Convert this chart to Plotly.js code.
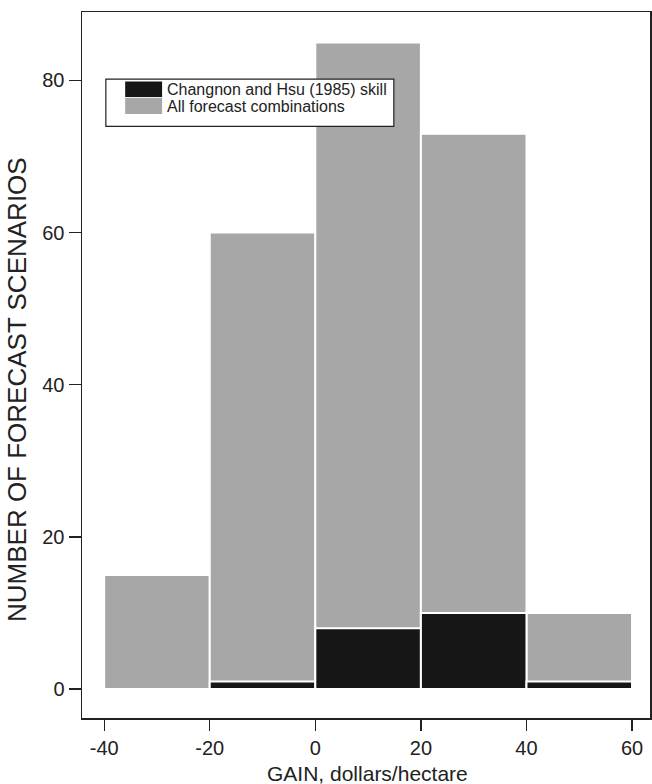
<!DOCTYPE html>
<html>
<head>
<meta charset="utf-8">
<script src="https://cdn.plot.ly/plotly-3.0.1.min.js"></script>
<style>
html,body{margin:0;padding:0;background:#fff;}
#chart{width:652px;height:784px;}
</style>
</head>
<body>
<div id="chart"></div>
<script>
// Histogram bins (dollars/hectare)
var binCenters = [-30, -10, 10, 30, 50];
var allCombinations = [15, 60, 85, 73, 10];
var changnonHsuSkill = [0, 1, 8, 10, 1];
var xTicks = [-40, -20, 0, 20, 40, 60];
var yTicks = [0, 20, 40, 60, 80];
var legendLabels = ["Changnon and Hsu (1985) skill", "All forecast combinations"];
var xTitle = "GAIN, dollars/hectare";
var yTitle = "NUMBER OF FORECAST SCENARIOS";

var font = "Liberation Sans, Arial, Helvetica, sans-serif";
var gray = "#a7a7a7";
var black = "#161616";
var ink = "#222222";

var traces = [
  {
    type: "bar", x: binCenters, y: allCombinations, width: 20,
    name: legendLabels[1],
    marker: {color: gray, line: {color: "#ffffff", width: 2}},
    hoverinfo: "x+y", showlegend: false
  },
  {
    type: "bar", x: binCenters, y: changnonHsuSkill, width: 20,
    name: legendLabels[0],
    marker: {color: black, line: {color: "#ffffff", width: 2}},
    hoverinfo: "x+y", showlegend: false
  }
];

var layout = {
  width: 652, height: 784,
  margin: {l: 82, r: 2, t: 12, b: 66},
  paper_bgcolor: "#ffffff", plot_bgcolor: "#ffffff",
  barmode: "overlay", bargap: 0,
  showlegend: false,
  font: {family: font, size: 20, color: ink},
  xaxis: {
    range: [-44.2, 63.4],
    tickvals: xTicks, ticktext: xTicks.map(String),
    ticks: "outside", ticklen: 11, tickwidth: 1.3, tickcolor: ink,
    showline: true, linecolor: ink, linewidth: 1.5, mirror: true,
    showgrid: false, zeroline: false, automargin: false,
    tickfont: {family: font, size: 20, color: ink}
  },
  yaxis: {
    range: [-3.8, 89.0],
    tickvals: yTicks, ticktext: yTicks.map(String),
    ticks: "outside", ticklen: 12, tickwidth: 1.3, tickcolor: ink,
    showline: true, linecolor: ink, linewidth: 1.5, mirror: true,
    showgrid: false, zeroline: false, automargin: false,
    tickfont: {family: font, size: 20, color: ink}
  },
  shapes: [
    // legend box
    {type: "rect", xref: "paper", yref: "paper", x0: 0.042, x1: 0.549, y0: 0.838, y1: 0.905,
     line: {color: ink, width: 1.2}, fillcolor: "#ffffff", layer: "above"},
    // black swatch
    {type: "rect", xref: "paper", yref: "paper", x0: 0.076, x1: 0.141, y0: 0.8795, y1: 0.9015,
     line: {width: 0}, fillcolor: black, layer: "above"},
    // gray swatch
    {type: "rect", xref: "paper", yref: "paper", x0: 0.076, x1: 0.141, y0: 0.8555, y1: 0.8785,
     line: {width: 0}, fillcolor: gray, layer: "above"}
  ],
  annotations: [
    {xref: "paper", yref: "paper", x: 0.147, y: 0.8905, xanchor: "left", yanchor: "middle",
     text: legendLabels[0], showarrow: false, font: {family: font, size: 16, color: ink}},
    {xref: "paper", yref: "paper", x: 0.147, y: 0.8665, xanchor: "left", yanchor: "middle",
     text: legendLabels[1], showarrow: false, font: {family: font, size: 16, color: ink}},
    // axis titles
    {xref: "paper", yref: "paper", x: 0.5018, y: -0.078, xanchor: "center", yanchor: "middle",
     text: xTitle, showarrow: false, font: {family: font, size: 21, color: ink}},
    {xref: "paper", yref: "paper", x: -0.1144, y: 0.4646, xanchor: "center", yanchor: "middle",
     textangle: -90, text: yTitle, showarrow: false, font: {family: font, size: 26, color: ink}}
  ]
};

Plotly.newPlot("chart", traces, layout, {displayModeBar: false, staticPlot: true});
</script>
</body>
</html>
